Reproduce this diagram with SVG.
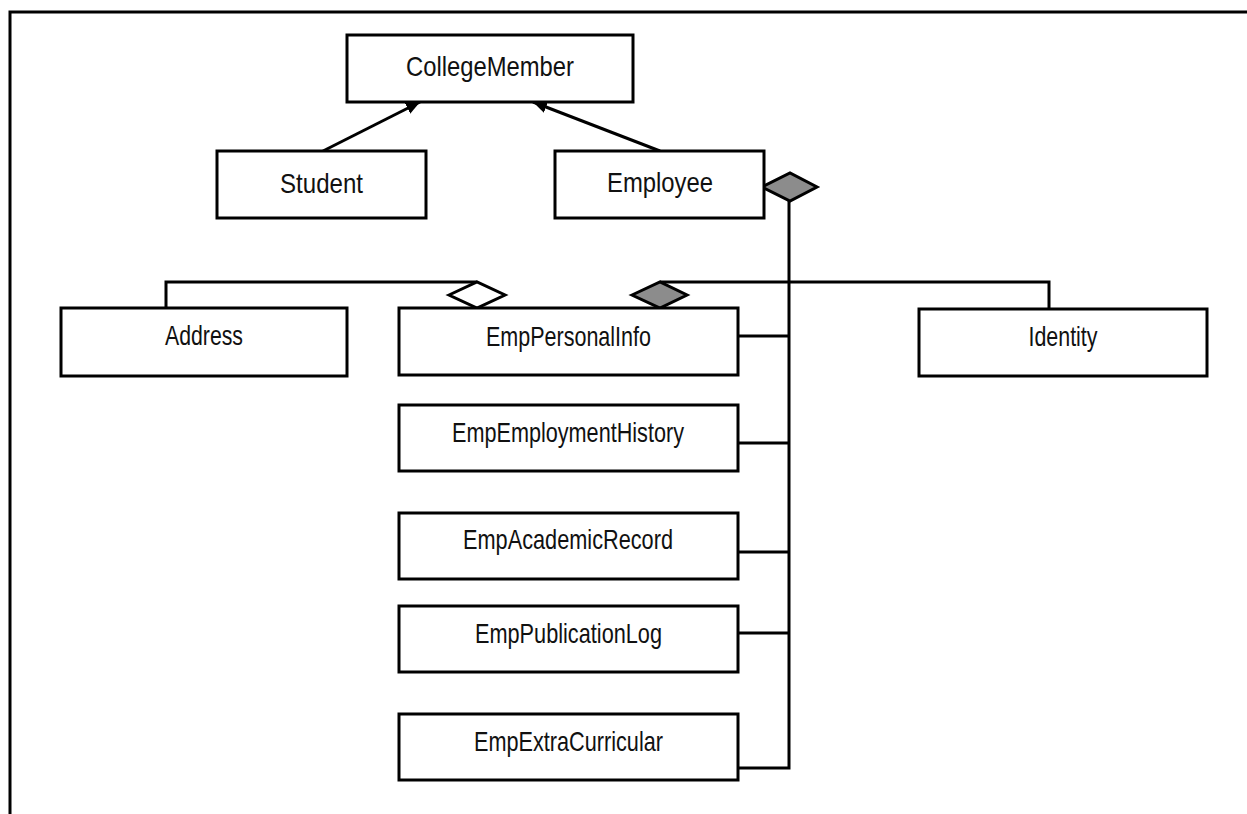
<svg xmlns="http://www.w3.org/2000/svg" width="1247" height="814" viewBox="0 0 1247 814">
<style>
.box{fill:#fff;stroke:#000;stroke-width:3}
.lbl{font-family:"Liberation Sans",Arial,sans-serif;font-size:28px;fill:#111;text-anchor:middle}
.ln{fill:none;stroke:#000;stroke-width:3}
.dia-o{fill:#fff;stroke:#000;stroke-width:3}
.dia-f{fill:#8c8c8c;stroke:#000;stroke-width:3}
</style>
<defs>
<marker id="arr" markerUnits="userSpaceOnUse" markerWidth="16" markerHeight="14" refX="14" refY="7" orient="auto">
<path d="M0,1 L14,7 L0,13 Z" fill="#000"/>
</marker>
</defs>
<rect width="1247" height="814" fill="#fff"/>
<path class="ln" d="M10,814 V12 H1247"/>
<g id="connectors">
<line class="ln" x1="323" y1="151" x2="420" y2="102" marker-end="url(#arr)"/>
<line class="ln" x1="660" y1="151" x2="533" y2="102" marker-end="url(#arr)"/>
<path class="ln" d="M166,308 V282 H477"/>
<path class="ln" d="M660,282 H1049 V309"/>
<path class="ln" d="M789,201 V768 H738"/>
<line class="ln" x1="738" y1="336" x2="789" y2="336"/>
<line class="ln" x1="738" y1="443" x2="789" y2="443"/>
<line class="ln" x1="738" y1="552" x2="789" y2="552"/>
<line class="ln" x1="738" y1="633" x2="789" y2="633"/>
<polygon class="dia-f" points="762,187 790,173 817,187 790,201"/>
<polygon class="dia-o" points="449,295 477,282 505,295 477,308"/>
<polygon class="dia-f" points="632,295 660,282 687,295 660,308"/>
</g>
<g id="CollegeMember"><rect class="box" x="347" y="35" width="286" height="67"/><text class="lbl" x="490" y="76" textLength="168" lengthAdjust="spacingAndGlyphs">CollegeMember</text></g>
<g id="Student"><rect class="box" x="217" y="151" width="209" height="67"/><text class="lbl" x="321.5" y="193" textLength="83" lengthAdjust="spacingAndGlyphs">Student</text></g>
<g id="Employee"><rect class="box" x="555" y="151" width="209" height="67"/><text class="lbl" x="660" y="192" textLength="106" lengthAdjust="spacingAndGlyphs">Employee</text></g>
<g id="Address"><rect class="box" x="61" y="308" width="286" height="68"/><text class="lbl" x="204" y="345" textLength="78" lengthAdjust="spacingAndGlyphs">Address</text></g>
<g id="EmpPersonalInfo"><rect class="box" x="399" y="308" width="339" height="67"/><text class="lbl" x="568.5" y="346" textLength="165" lengthAdjust="spacingAndGlyphs">EmpPersonalInfo</text></g>
<g id="Identity"><rect class="box" x="919" y="309" width="288" height="67"/><text class="lbl" x="1063" y="346" textLength="69" lengthAdjust="spacingAndGlyphs">Identity</text></g>
<g id="EmpEmploymentHistory"><rect class="box" x="399" y="405" width="339" height="66"/><text class="lbl" x="568" y="442" textLength="232" lengthAdjust="spacingAndGlyphs">EmpEmploymentHistory</text></g>
<g id="EmpAcademicRecord"><rect class="box" x="399" y="513" width="339" height="66"/><text class="lbl" x="568" y="549" textLength="210" lengthAdjust="spacingAndGlyphs">EmpAcademicRecord</text></g>
<g id="EmpPublicationLog"><rect class="box" x="399" y="606" width="339" height="66"/><text class="lbl" x="568.5" y="643" textLength="187" lengthAdjust="spacingAndGlyphs">EmpPublicationLog</text></g>
<g id="EmpExtraCurricular"><rect class="box" x="399" y="714" width="339" height="66"/><text class="lbl" x="568.5" y="751" textLength="189" lengthAdjust="spacingAndGlyphs">EmpExtraCurricular</text></g>
</svg>
